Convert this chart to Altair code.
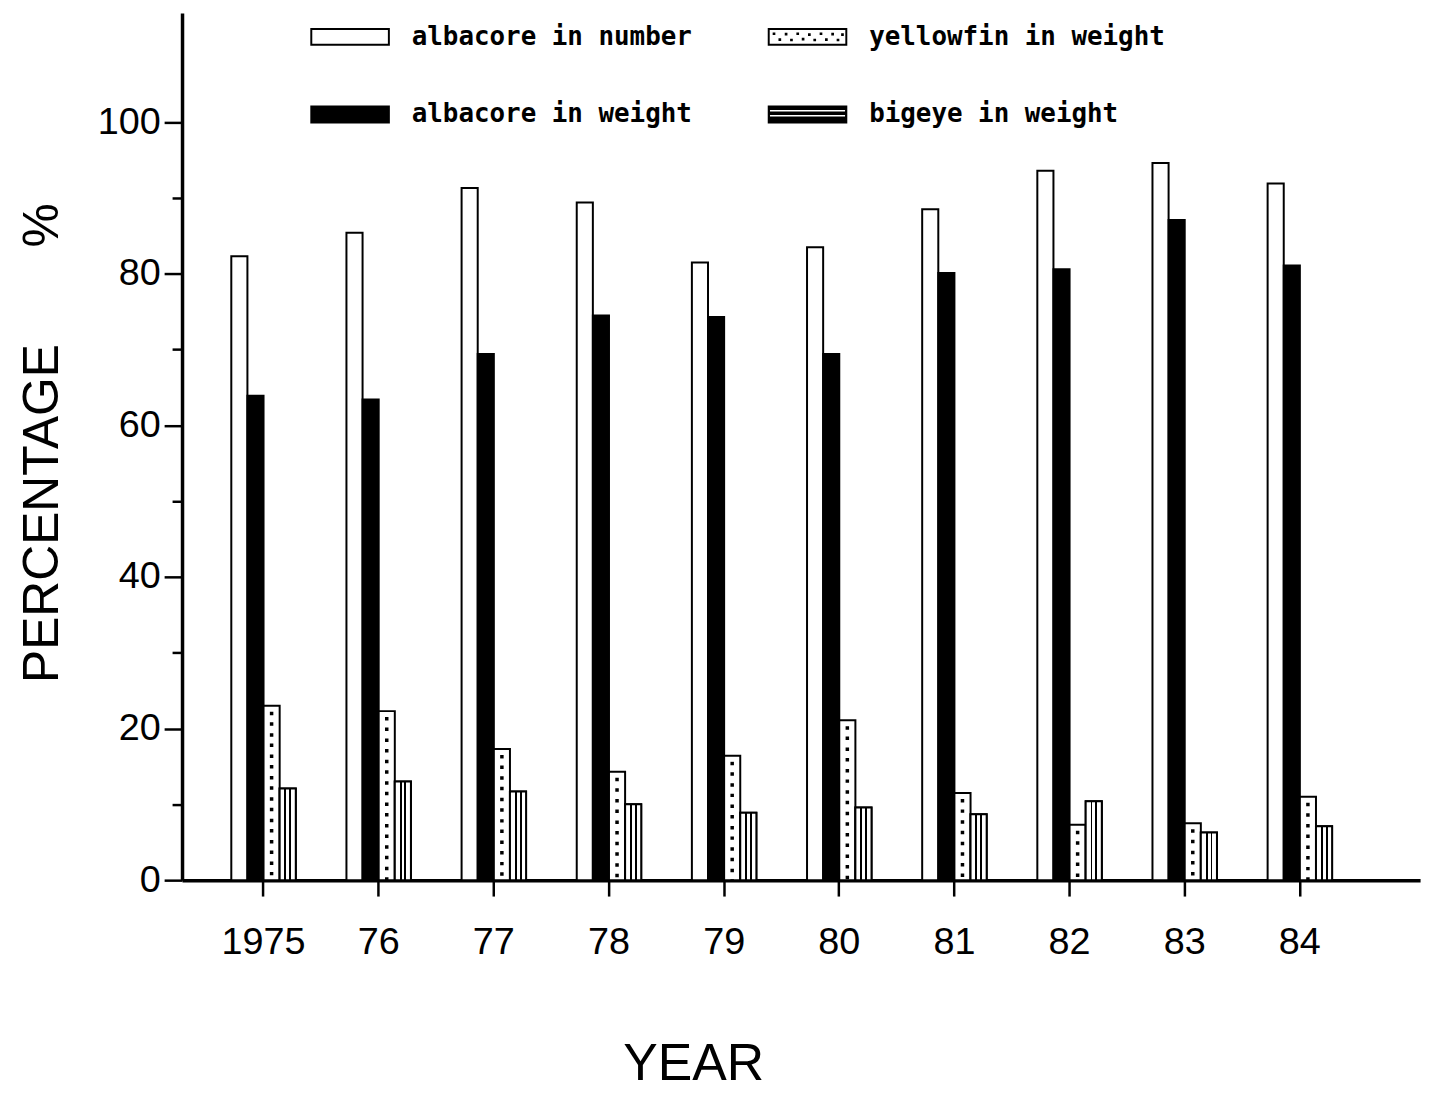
import altair as alt
import pandas as pd

years = ["1975", "76", "77", "78", "79", "80", "81", "82", "83", "84"]
albacore_number = [82.3, 85.4, 91.3, 89.4, 81.5, 83.5, 88.5, 93.6, 94.6, 91.9]
albacore_weight = [63.9, 63.4, 69.4, 74.5, 74.3, 69.4, 80.1, 80.6, 87.1, 81.1]
yellowfin_weight = [23.0, 22.3, 17.3, 14.3, 16.4, 21.1, 11.5, 7.3, 7.5, 11.0]
bigeye_weight = [12.1, 13.0, 11.7, 10.0, 8.9, 9.6, 8.7, 10.4, 6.3, 7.1]

series_names = ["albacore in number", "albacore in weight", "yellowfin in weight", "bigeye in weight"]
series_values = [albacore_number, albacore_weight, yellowfin_weight, bigeye_weight]

rows = []
for i, yr in enumerate(years):
    for s, vals in zip(series_names, series_values):
        rows.append({"year": yr, "series": s, "value": vals[i]})
df = pd.DataFrame(rows)

# legend symbol shapes (unit paths, scaled by sqrt(size)/2)
W = 7.889
frame = f"M-1,-1H{W}V1H-1Z M-0.78,-0.78V0.78H{W-0.22}V-0.78Z"
solid = f"M-1,-1H{W}V1H-1Z"
dot_pos = [(-0.45, -0.5), (0.2, 0.15), (0.9, -0.45), (1.5, 0.2), (2.2, -0.5), (2.8, 0.1),
           (3.5, -0.4), (4.1, 0.2), (4.8, -0.5), (5.4, 0.15), (6.1, -0.45), (6.7, 0.2), (7.2, -0.4)]
dots = frame + " " + " ".join(f"M{x},{y}h0.3v0.3h-0.3Z" for x, y in dot_pos)
stripes = solid + f" M-0.75,-0.5V-0.32H{W-0.25}V-0.5Z M-0.75,0.05V0.23H{W-0.25}V0.05Z"
legend_paths = {"albacore in number": frame, "yellowfin in weight": dots,
                "albacore in weight": solid, "bigeye in weight": stripes}

nb = "\u00a0"
y_title = "PERCENTAGE" + nb * 7 + "%"

x_enc = alt.X(
    "year:N", sort=years, title="YEAR",
    scale=alt.Scale(paddingInner=0.44, paddingOuter=0.596, align=0.359),
    axis=alt.Axis(labelAngle=0, labelFont="Liberation Sans", labelFontSize=38, labelColor="black",
                  labelPadding=28, tickSize=16, tickWidth=2.5, tickColor="black",
                  domainWidth=3.5, domainColor="black",
                  titleFont="Liberation Sans", titleFontSize=52, titleFontWeight="normal",
                  titleColor="black", titleX=514, titleY=200, titleAlign="center",
                  titleBaseline="alphabetic", titleAnchor="start"),
)
xoff = alt.XOffset("series:N", sort=series_names,
                   scale=alt.Scale(domain=series_names, paddingInner=0, paddingOuter=0))
y_enc = alt.Y(
    "value:Q", title=y_title,
    scale=alt.Scale(domain=[0, 114.4], nice=False, zero=True),
    axis=alt.Axis(values=list(range(0, 101, 10)),
                  labelExpr="datum.value % 20 == 0 ? datum.label : ''",
                  tickSize={"condition": {"test": "datum.value % 20 == 0", "value": 18}, "value": 10},
                  tickWidth=2.5, tickColor="black", domainWidth=3.5, domainColor="black",
                  labelFont="Liberation Sans", labelFontSize=38, labelColor="black", labelPadding=4,
                  grid=False,
                  titleFont="Liberation Sans", titleFontSize=50, titleFontWeight="normal",
                  titleColor="black", titleX=-125, titleY=432, titleAlign="center",
                  titleBaseline="alphabetic", titleAngle=-90, titleAnchor="start"),
)

base = alt.Chart(df).encode(x=x_enc, xOffset=xoff, y=y_enc)

bars = base.mark_bar(stroke="black", strokeWidth=2).encode(
    fill=alt.Fill("series:N", scale=alt.Scale(domain=series_names,
                                              range=["white", "black", "white", "white"]),
                  legend=None)
)

stripe_grad = {
    "gradient": "linear", "x1": 0, "x2": 1, "y1": 0, "y2": 0,
    "stops": [
        {"offset": 0.0, "color": "white"}, {"offset": 0.3, "color": "white"},
        {"offset": 0.3, "color": "black"}, {"offset": 0.42, "color": "black"},
        {"offset": 0.42, "color": "white"}, {"offset": 0.6, "color": "white"},
        {"offset": 0.6, "color": "black"}, {"offset": 0.72, "color": "black"},
        {"offset": 0.72, "color": "white"}, {"offset": 1.0, "color": "white"},
    ],
}
striped = base.transform_filter(alt.datum.series == "bigeye in weight").mark_bar(
    fill=stripe_grad, stroke="black", strokeWidth=2)

dot1 = base.transform_filter(alt.datum.series == "yellowfin in weight").mark_rule(
    color="black", strokeWidth=3.5, strokeDash=[3.5, 18], strokeDashOffset=-6, xOffset=-3).encode(y2=alt.datum(0))
dot2 = base.transform_filter(alt.datum.series == "yellowfin in weight").mark_rule(
    color="black", strokeWidth=3.5, strokeDash=[3.5, 18], strokeDashOffset=5, xOffset=3).encode(y2=alt.datum(0))

legend_pts = base.transform_calculate(key="datum.series").mark_point(
    filled=True, opacity=0, color="black", strokeWidth=0).encode(
    shape=alt.Shape("key:N",
                    scale=alt.Scale(domain=series_names, range=[legend_paths[s] for s in series_names]),
                    legend=alt.Legend(title=None, orient="none", legendX=125, legendY=11, columns=2,
                                      symbolSize=324, symbolFillColor="black", symbolStrokeWidth=0,
                                      symbolOpacity=1, labelFont="DejaVu Sans Mono", labelFontSize=26,
                                      labelFontWeight="bold", labelColor="black", labelOffset=80,
                                      labelLimit=500, rowPadding=52, columnPadding=72, padding=0))
)

chart = alt.layer(bars, striped, dot1, dot2, legend_pts).properties(
    width=1245, height=872,
    autosize=alt.AutoSizeParams(type="none"),
    padding={"left": 175, "top": 2, "right": 15, "bottom": 211},
).resolve_legend(shape="independent", fill="independent").configure(background="white").configure_view(stroke=None)

chart.save("out.html", embed_options={"renderer": "svg", "actions": False})
